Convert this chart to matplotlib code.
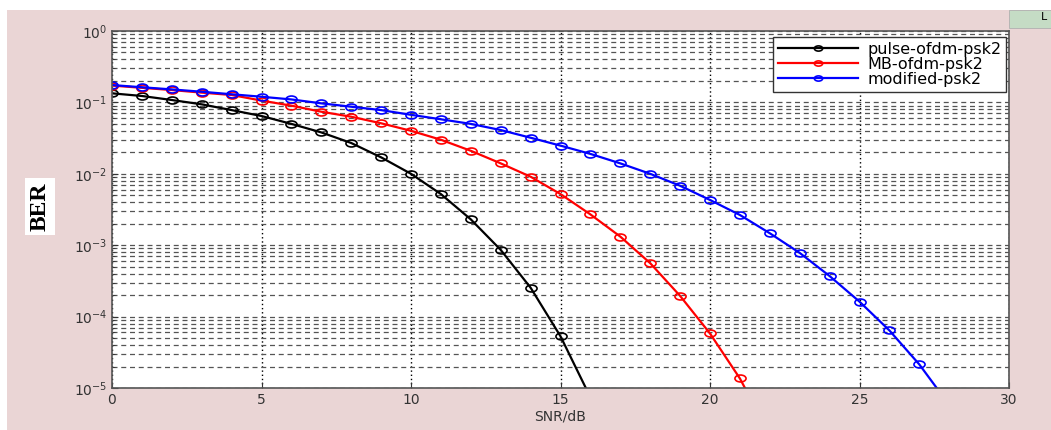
#!/usr/bin/env python3

import numpy as np
import matplotlib
matplotlib.use("Agg")
import matplotlib.pyplot as plt
from matplotlib.patches import Rectangle
from matplotlib.path import Path
from matplotlib.transforms import Affine2D
from matplotlib.ticker import LogLocator, NullFormatter, MultipleLocator, NullLocator

plt.rcParams["font.family"] = ["DejaVu Sans"]

# BER curves, one value per dB step
snr_pulse = [0, 1, 2, 3, 4, 5, 6, 7, 8, 9, 10, 11, 12, 13, 14, 15, 16]
ber_pulse = [0.134, 0.123, 0.108, 0.094, 0.078, 0.0645, 0.050, 0.038, 0.027, 0.017,
             0.0100, 0.0052, 0.0023, 8.6e-4, 2.54e-4, 5.3e-5, 7.4e-6]

snr_mb = [0, 1, 2, 3, 4, 5, 6, 7, 8, 9, 10, 11, 12, 13, 14, 15, 16, 17, 18, 19, 20, 21, 22]
ber_mb = [0.172, 0.16, 0.149, 0.137, 0.127, 0.106, 0.090, 0.074, 0.063, 0.051, 0.040,
          0.030, 0.021, 0.014, 0.0091, 0.0052, 0.0027, 0.00132, 5.6e-4, 1.95e-4,
          5.8e-5, 1.36e-5, 2.2e-6]

snr_mod = list(range(0, 29))
ber_mod = [0.175, 0.163, 0.152, 0.141, 0.130, 0.120, 0.110, 0.097, 0.087, 0.078, 0.067,
           0.058, 0.050, 0.041, 0.032, 0.0248, 0.019, 0.014, 0.0100, 0.0068, 0.0043,
           0.00265, 0.00147, 7.8e-4, 3.7e-4, 1.62e-4, 6.4e-5, 2.14e-5, 5.8e-6]

series = [
    ("pulse-ofdm-psk2", snr_pulse, ber_pulse, "black"),
    ("MB-ofdm-psk2", snr_mb, ber_mb, "red"),
    ("modified-psk2", snr_mod, ber_mod, "blue"),
]

W, H = 1051, 430
fig = plt.figure(figsize=(W / 100, H / 100), dpi=100, facecolor="white")

# window background and the tab in the corner (behind the axes)
fig.patches.append(Rectangle((7 / W, 0), 1 - 7 / W, (H - 10) / H,
                             transform=fig.transFigure, facecolor="#ead5d5",
                             edgecolor="none", zorder=-2))
fig.patches.append(Rectangle((1009 / W, (H - 28) / H), 1 - 1009 / W, 18 / H,
                             transform=fig.transFigure, facecolor="#c5dcc5",
                             edgecolor="#b0b0b0", linewidth=0.6, zorder=-1))
fig.text(1041 / W, (H - 17) / H, "L", fontsize=8, va="center", ha="left")

ax = fig.add_axes([112 / W, (H - 388) / H, (1009 - 112) / W, (388 - 31) / H])
ax.set_facecolor("white")

# open markers a bit wider than tall
oval = Path.unit_circle().transformed(Affine2D().scale(1.6, 1.0))

for name, x, y, c in series:
    ax.semilogy(x, y, "-", marker=oval, color=c, lw=1.6, markersize=8,
                markerfacecolor="none", markeredgewidth=1.2, label=name)

ax.set_xlim(0, 30)
ax.set_ylim(1e-5, 1)
ax.xaxis.set_major_locator(MultipleLocator(5))
ax.xaxis.set_minor_locator(NullLocator())
ax.yaxis.set_major_locator(LogLocator(base=10, numticks=10))
ax.yaxis.set_minor_locator(LogLocator(base=10, subs=np.arange(2, 10), numticks=20))
ax.yaxis.set_minor_formatter(NullFormatter())

ax.grid(True, which="major", axis="x", color="black", linestyle=(0, (1, 2)), lw=1.0)
ax.grid(True, which="both", axis="y", color="#555555", linestyle=(0, (4, 3)), lw=0.9)

ax.tick_params(which="both", direction="in", colors="#333333", labelsize=10)
ax.tick_params(which="minor", length=2)
ax.tick_params(which="major", length=4)
for s in ax.spines.values():
    s.set_color("#555555")
    s.set_linewidth(1.2)

ax.set_xlabel("SNR/dB", fontsize=10, color="#333333", labelpad=2)

fig.text(40 / W, (H - 207) / H, "BER", rotation=90, ha="center", va="center",
         fontsize=17, fontweight="bold", family=["Liberation Serif", "DejaVu Serif"],
         bbox=dict(facecolor="white", edgecolor="none", pad=3))

leg = ax.legend(loc="upper right", bbox_to_anchor=(1006 / W, (H - 37) / H),
                bbox_transform=fig.transFigure, fancybox=False, framealpha=1,
                edgecolor="#333333", fontsize=11.5, borderpad=0.3, labelspacing=0.0,
                handlelength=5.0, handletextpad=0.6, borderaxespad=0, markerscale=0.75)
leg.get_frame().set_linewidth(1.0)

fig.savefig("out.png", dpi=100)
